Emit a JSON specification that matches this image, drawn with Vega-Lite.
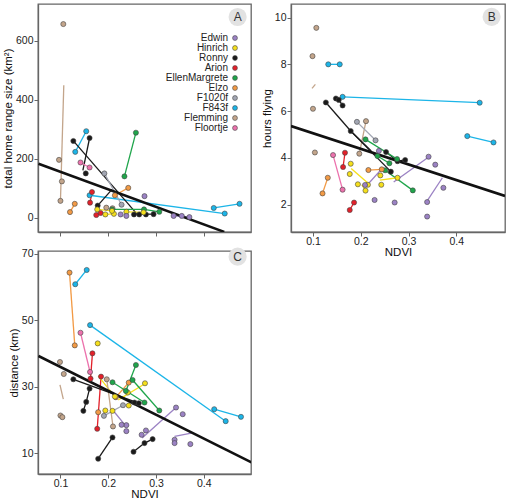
{
  "$schema": "https://vega.github.io/schema/vega-lite/v6.json",
  "padding": {"left": 1, "top": 3, "right": 3, "bottom": 0},
  "background": "white",
  "config": {
    "font": "Liberation Sans",
    "view": {"stroke": "#666", "strokeWidth": 1.3},
    "axis": {"grid": false, "domainColor": "#666", "domainWidth": 1.3, "tickColor": "#666", "tickSize": 4, "labelPadding": 1, "titlePadding": 2, "labelFont": "Liberation Sans", "labelFontSize": 10.5, "labelColor": "#222", "titleFont": "Liberation Sans", "titleFontSize": 11.5, "titleFontWeight": "normal", "titleColor": "#111"},
    "axisX": {"labelPadding": 0, "titlePadding": 0}
  },
  "datasets": {
    "pts": [
      {"p":"A","id":"Flemming","ndvi":0.106,"v":656},{"p":"A","id":"Flemming","ndvi":0.097,"v":196},{"p":"A","id":"Flemming","ndvi":0.103,"v":123},{"p":"A","id":"Flemming","ndvi":0.1,"v":57},{"p":"A","id":"Flemming","ndvi":0.196,"v":34},{"p":"A","id":"Flemming","ndvi":0.209,"v":32},
      {"p":"A","id":"F843f","ndvi":0.131,"v":223},{"p":"A","id":"F843f","ndvi":0.154,"v":293},{"p":"A","id":"F843f","ndvi":0.161,"v":76},{"p":"A","id":"F843f","ndvi":0.444,"v":14},{"p":"A","id":"F843f","ndvi":0.421,"v":33},{"p":"A","id":"F843f","ndvi":0.475,"v":47},
      {"p":"A","id":"Ronny","ndvi":0.127,"v":260},{"p":"A","id":"Ronny","ndvi":0.161,"v":270},{"p":"A","id":"Ronny","ndvi":0.153,"v":150},{"p":"A","id":"Ronny","ndvi":0.178,"v":41},{"p":"A","id":"Ronny","ndvi":0.254,"v":11},{"p":"A","id":"Ronny","ndvi":0.265,"v":11},{"p":"A","id":"Ronny","ndvi":0.279,"v":11},{"p":"A","id":"Ronny","ndvi":0.295,"v":12},
      {"p":"A","id":"EllenMargrete","ndvi":0.234,"v":140},{"p":"A","id":"EllenMargrete","ndvi":0.258,"v":288},{"p":"A","id":"EllenMargrete","ndvi":0.275,"v":28},{"p":"A","id":"EllenMargrete","ndvi":0.307,"v":20},{"p":"A","id":"EllenMargrete","ndvi":0.208,"v":28},
      {"p":"A","id":"F1020f","ndvi":0.192,"v":150},{"p":"A","id":"F1020f","ndvi":0.228,"v":44},
      {"p":"A","id":"Elzo","ndvi":0.12,"v":19},{"p":"A","id":"Elzo","ndvi":0.13,"v":47},{"p":"A","id":"Elzo","ndvi":0.214,"v":76},{"p":"A","id":"Elzo","ndvi":0.242,"v":101},
      {"p":"A","id":"Floortje","ndvi":0.142,"v":187},{"p":"A","id":"Floortje","ndvi":0.161,"v":170},
      {"p":"A","id":"Arion","ndvi":0.166,"v":87},{"p":"A","id":"Arion","ndvi":0.162,"v":51},{"p":"A","id":"Arion","ndvi":0.175,"v":9},{"p":"A","id":"Arion","ndvi":0.184,"v":16},
      {"p":"A","id":"Hinrich","ndvi":0.177,"v":28},{"p":"A","id":"Hinrich","ndvi":0.194,"v":11},{"p":"A","id":"Hinrich","ndvi":0.212,"v":13},{"p":"A","id":"Hinrich","ndvi":0.208,"v":23},{"p":"A","id":"Hinrich","ndvi":0.238,"v":20},{"p":"A","id":"Hinrich","ndvi":0.274,"v":18},
      {"p":"A","id":"Edwin","ndvi":0.276,"v":73},{"p":"A","id":"Edwin","ndvi":0.337,"v":6},{"p":"A","id":"Edwin","ndvi":0.354,"v":6},{"p":"A","id":"Edwin","ndvi":0.37,"v":2},{"p":"A","id":"Edwin","ndvi":0.226,"v":11},{"p":"A","id":"Edwin","ndvi":0.238,"v":6},

      {"p":"B","id":"Flemming","ndvi":0.107,"v":9.56},{"p":"B","id":"Flemming","ndvi":0.099,"v":8.35},{"p":"B","id":"Flemming","ndvi":0.1,"v":6.1},{"p":"B","id":"Flemming","ndvi":0.104,"v":4.23},{"p":"B","id":"Flemming","ndvi":0.211,"v":5.57},{"p":"B","id":"Flemming","ndvi":0.197,"v":4.18},
      {"p":"B","id":"F1020f","ndvi":0.192,"v":5.54},{"p":"B","id":"F1020f","ndvi":0.231,"v":4.75},
      {"p":"B","id":"F843f","ndvi":0.132,"v":8.0},{"p":"B","id":"F843f","ndvi":0.156,"v":8.0},{"p":"B","id":"F843f","ndvi":0.162,"v":6.61},{"p":"B","id":"F843f","ndvi":0.449,"v":6.36},{"p":"B","id":"F843f","ndvi":0.423,"v":4.93},{"p":"B","id":"F843f","ndvi":0.478,"v":4.66},
      {"p":"B","id":"Ronny","ndvi":0.127,"v":6.37},{"p":"B","id":"Ronny","ndvi":0.179,"v":5.15},{"p":"B","id":"Ronny","ndvi":0.148,"v":6.54},{"p":"B","id":"Ronny","ndvi":0.154,"v":6.48},{"p":"B","id":"Ronny","ndvi":0.162,"v":6.24},{"p":"B","id":"Ronny","ndvi":0.253,"v":4.25},{"p":"B","id":"Ronny","ndvi":0.277,"v":3.86},{"p":"B","id":"Ronny","ndvi":0.293,"v":3.91},{"p":"B","id":"Ronny","ndvi":0.263,"v":3.41},
      {"p":"B","id":"EllenMargrete","ndvi":0.21,"v":4.79},{"p":"B","id":"EllenMargrete","ndvi":0.235,"v":4.08},{"p":"B","id":"EllenMargrete","ndvi":0.26,"v":3.77},{"p":"B","id":"EllenMargrete","ndvi":0.251,"v":3.47},{"p":"B","id":"EllenMargrete","ndvi":0.309,"v":2.61},{"p":"B","id":"EllenMargrete","ndvi":0.276,"v":3.95},
      {"p":"B","id":"Arion","ndvi":0.167,"v":4.22},{"p":"B","id":"Arion","ndvi":0.163,"v":3.61},{"p":"B","id":"Arion","ndvi":0.186,"v":2.09},{"p":"B","id":"Arion","ndvi":0.177,"v":1.77},
      {"p":"B","id":"Floortje","ndvi":0.142,"v":4.12},{"p":"B","id":"Floortje","ndvi":0.162,"v":2.64},
      {"p":"B","id":"Elzo","ndvi":0.131,"v":3.15},{"p":"B","id":"Elzo","ndvi":0.12,"v":2.48},{"p":"B","id":"Elzo","ndvi":0.216,"v":3.48},{"p":"B","id":"Elzo","ndvi":0.244,"v":3.51},
      {"p":"B","id":"Hinrich","ndvi":0.179,"v":3.75},{"p":"B","id":"Hinrich","ndvi":0.177,"v":3.31},{"p":"B","id":"Hinrich","ndvi":0.194,"v":2.87},{"p":"B","id":"Hinrich","ndvi":0.215,"v":2.85},{"p":"B","id":"Hinrich","ndvi":0.21,"v":2.6},{"p":"B","id":"Hinrich","ndvi":0.243,"v":2.85},{"p":"B","id":"Hinrich","ndvi":0.241,"v":3.25},{"p":"B","id":"Hinrich","ndvi":0.277,"v":3.15},
      {"p":"B","id":"Edwin","ndvi":0.238,"v":4.3},{"p":"B","id":"Edwin","ndvi":0.209,"v":2.84},{"p":"B","id":"Edwin","ndvi":0.229,"v":2.2},{"p":"B","id":"Edwin","ndvi":0.271,"v":2.09},{"p":"B","id":"Edwin","ndvi":0.342,"v":4.05},{"p":"B","id":"Edwin","ndvi":0.356,"v":3.71},{"p":"B","id":"Edwin","ndvi":0.339,"v":2.11},{"p":"B","id":"Edwin","ndvi":0.373,"v":2.72},{"p":"B","id":"Edwin","ndvi":0.339,"v":1.49},

      {"p":"C","id":"Elzo","ndvi":0.119,"v":64.3},{"p":"C","id":"Elzo","ndvi":0.13,"v":42.4},{"p":"C","id":"Elzo","ndvi":0.216,"v":26.8},{"p":"C","id":"Elzo","ndvi":0.243,"v":31.2},{"p":"C","id":"Elzo","ndvi":0.179,"v":22.3},
      {"p":"C","id":"F843f","ndvi":0.131,"v":60.8},{"p":"C","id":"F843f","ndvi":0.155,"v":65.1},{"p":"C","id":"F843f","ndvi":0.162,"v":48.5},{"p":"C","id":"F843f","ndvi":0.446,"v":19.6},{"p":"C","id":"F843f","ndvi":0.422,"v":23.2},{"p":"C","id":"F843f","ndvi":0.478,"v":20.9},
      {"p":"C","id":"Floortje","ndvi":0.142,"v":46.2},{"p":"C","id":"Floortje","ndvi":0.162,"v":34.4},
      {"p":"C","id":"Arion","ndvi":0.167,"v":40},{"p":"C","id":"Arion","ndvi":0.163,"v":32.4},{"p":"C","id":"Arion","ndvi":0.185,"v":33},{"p":"C","id":"Arion","ndvi":0.177,"v":17.3},
      {"p":"C","id":"Hinrich","ndvi":0.178,"v":43},{"p":"C","id":"Hinrich","ndvi":0.194,"v":22.8},{"p":"C","id":"Hinrich","ndvi":0.209,"v":22.7},{"p":"C","id":"Hinrich","ndvi":0.214,"v":27},{"p":"C","id":"Hinrich","ndvi":0.241,"v":28.2},{"p":"C","id":"Hinrich","ndvi":0.243,"v":24.3},{"p":"C","id":"Hinrich","ndvi":0.277,"v":31},
      {"p":"C","id":"EllenMargrete","ndvi":0.258,"v":36.5},{"p":"C","id":"EllenMargrete","ndvi":0.237,"v":28.7},{"p":"C","id":"EllenMargrete","ndvi":0.251,"v":32},{"p":"C","id":"EllenMargrete","ndvi":0.307,"v":22.8},{"p":"C","id":"EllenMargrete","ndvi":0.209,"v":31.3},{"p":"C","id":"EllenMargrete","ndvi":0.276,"v":25.2},
      {"p":"C","id":"Flemming","ndvi":0.099,"v":37.4},{"p":"C","id":"Flemming","ndvi":0.107,"v":33.8},{"p":"C","id":"Flemming","ndvi":0.1,"v":21.3},{"p":"C","id":"Flemming","ndvi":0.104,"v":20.8},{"p":"C","id":"Flemming","ndvi":0.197,"v":32.2},{"p":"C","id":"Flemming","ndvi":0.21,"v":18},
      {"p":"C","id":"F1020f","ndvi":0.191,"v":21.2},{"p":"C","id":"F1020f","ndvi":0.231,"v":24.4},
      {"p":"C","id":"Ronny","ndvi":0.127,"v":32.2},{"p":"C","id":"Ronny","ndvi":0.255,"v":25.2},{"p":"C","id":"Ronny","ndvi":0.264,"v":25},{"p":"C","id":"Ronny","ndvi":0.148,"v":22.7},{"p":"C","id":"Ronny","ndvi":0.154,"v":25.4},{"p":"C","id":"Ronny","ndvi":0.161,"v":29.4},{"p":"C","id":"Ronny","ndvi":0.179,"v":8.3},{"p":"C","id":"Ronny","ndvi":0.209,"v":14.7},{"p":"C","id":"Ronny","ndvi":0.253,"v":10.4},{"p":"C","id":"Ronny","ndvi":0.276,"v":13},{"p":"C","id":"Ronny","ndvi":0.293,"v":14.2},
      {"p":"C","id":"Edwin","ndvi":0.342,"v":23.7},{"p":"C","id":"Edwin","ndvi":0.356,"v":21.7},{"p":"C","id":"Edwin","ndvi":0.339,"v":14},{"p":"C","id":"Edwin","ndvi":0.339,"v":13},{"p":"C","id":"Edwin","ndvi":0.372,"v":12.7},{"p":"C","id":"Edwin","ndvi":0.238,"v":18.4},{"p":"C","id":"Edwin","ndvi":0.228,"v":18.5},{"p":"C","id":"Edwin","ndvi":0.238,"v":16.6},{"p":"C","id":"Edwin","ndvi":0.27,"v":15.5},{"p":"C","id":"Edwin","ndvi":0.279,"v":16.8}
    ],
    "segs": [
      {"p":"A","id":"Flemming","s":"a1","ndvi":0.1,"v":56},{"p":"A","id":"Flemming","s":"a1","ndvi":0.107,"v":449},
      {"p":"A","id":"F843f","s":"a2","ndvi":0.131,"v":223},{"p":"A","id":"F843f","s":"a2","ndvi":0.154,"v":293},
      {"p":"A","id":"F843f","s":"a3","ndvi":0.161,"v":76},{"p":"A","id":"F843f","s":"a3","ndvi":0.444,"v":14},
      {"p":"A","id":"F843f","s":"a4","ndvi":0.421,"v":33},{"p":"A","id":"F843f","s":"a4","ndvi":0.475,"v":47},
      {"p":"A","id":"Ronny","s":"a5","ndvi":0.127,"v":260},{"p":"A","id":"Ronny","s":"a5","ndvi":0.261,"v":11},
      {"p":"A","id":"Ronny","s":"a6","ndvi":0.161,"v":270},{"p":"A","id":"Ronny","s":"a6","ndvi":0.147,"v":160},
      {"p":"A","id":"Ronny","s":"a7","ndvi":0.177,"v":39},{"p":"A","id":"Ronny","s":"a7","ndvi":0.208,"v":96},
      {"p":"A","id":"Ronny","s":"a8","ndvi":0.254,"v":11},{"p":"A","id":"Ronny","s":"a8","ndvi":0.295,"v":12},
      {"p":"A","id":"EllenMargrete","s":"a9","ndvi":0.234,"v":140},{"p":"A","id":"EllenMargrete","s":"a9","ndvi":0.258,"v":288},
      {"p":"A","id":"EllenMargrete","s":"a10","ndvi":0.208,"v":28},{"p":"A","id":"EllenMargrete","s":"a10","ndvi":0.275,"v":28},
      {"p":"A","id":"EllenMargrete","s":"a11","ndvi":0.275,"v":28},{"p":"A","id":"EllenMargrete","s":"a11","ndvi":0.307,"v":20},
      {"p":"A","id":"F1020f","s":"a12","ndvi":0.192,"v":150},{"p":"A","id":"F1020f","s":"a12","ndvi":0.228,"v":44},
      {"p":"A","id":"Elzo","s":"a13","ndvi":0.12,"v":19},{"p":"A","id":"Elzo","s":"a13","ndvi":0.13,"v":47},
      {"p":"A","id":"Elzo","s":"a14","ndvi":0.214,"v":76},{"p":"A","id":"Elzo","s":"a14","ndvi":0.242,"v":101},
      {"p":"A","id":"Floortje","s":"a15","ndvi":0.142,"v":187},{"p":"A","id":"Floortje","s":"a15","ndvi":0.161,"v":170},
      {"p":"A","id":"Arion","s":"a16","ndvi":0.166,"v":87},{"p":"A","id":"Arion","s":"a16","ndvi":0.162,"v":51},
      {"p":"A","id":"Arion","s":"a17","ndvi":0.175,"v":9},{"p":"A","id":"Arion","s":"a17","ndvi":0.184,"v":16},
      {"p":"A","id":"Hinrich","s":"a18","ndvi":0.177,"v":28},{"p":"A","id":"Hinrich","s":"a18","ndvi":0.208,"v":23},
      {"p":"A","id":"Hinrich","s":"a19","ndvi":0.194,"v":11},{"p":"A","id":"Hinrich","s":"a19","ndvi":0.212,"v":13},
      {"p":"A","id":"Hinrich","s":"a20","ndvi":0.238,"v":20},{"p":"A","id":"Hinrich","s":"a20","ndvi":0.274,"v":18},
      {"p":"A","id":"Edwin","s":"a21","ndvi":0.337,"v":6},{"p":"A","id":"Edwin","s":"a21","ndvi":0.37,"v":3},

      {"p":"B","id":"Flemming","s":"b1","ndvi":0.098,"v":6.97},{"p":"B","id":"Flemming","s":"b1","ndvi":0.105,"v":7.14},
      {"p":"B","id":"Flemming","s":"b2","ndvi":0.211,"v":5.57},{"p":"B","id":"Flemming","s":"b2","ndvi":0.197,"v":4.18},
      {"p":"B","id":"F1020f","s":"b3","ndvi":0.192,"v":5.54},{"p":"B","id":"F1020f","s":"b3","ndvi":0.231,"v":4.75},
      {"p":"B","id":"F843f","s":"b4","ndvi":0.132,"v":8.0},{"p":"B","id":"F843f","s":"b4","ndvi":0.156,"v":8.0},
      {"p":"B","id":"F843f","s":"b5","ndvi":0.162,"v":6.61},{"p":"B","id":"F843f","s":"b5","ndvi":0.449,"v":6.36},
      {"p":"B","id":"F843f","s":"b6","ndvi":0.423,"v":4.93},{"p":"B","id":"F843f","s":"b6","ndvi":0.478,"v":4.66},
      {"p":"B","id":"Ronny","s":"b7","ndvi":0.127,"v":6.37},{"p":"B","id":"Ronny","s":"b7","ndvi":0.179,"v":5.15},
      {"p":"B","id":"Ronny","s":"b8","ndvi":0.179,"v":5.15},{"p":"B","id":"Ronny","s":"b8","ndvi":0.222,"v":4.3},
      {"p":"B","id":"Ronny","s":"b9","ndvi":0.179,"v":5.15},{"p":"B","id":"Ronny","s":"b9","ndvi":0.263,"v":3.41},
      {"p":"B","id":"Ronny","s":"b10","ndvi":0.148,"v":6.54},{"p":"B","id":"Ronny","s":"b10","ndvi":0.154,"v":6.48},{"p":"B","id":"Ronny","s":"b10","ndvi":0.162,"v":6.24},
      {"p":"B","id":"Ronny","s":"b11","ndvi":0.253,"v":4.25},{"p":"B","id":"Ronny","s":"b11","ndvi":0.277,"v":3.86},{"p":"B","id":"Ronny","s":"b11","ndvi":0.293,"v":3.91},
      {"p":"B","id":"EllenMargrete","s":"b12","ndvi":0.21,"v":4.79},{"p":"B","id":"EllenMargrete","s":"b12","ndvi":0.276,"v":3.95},
      {"p":"B","id":"EllenMargrete","s":"b13","ndvi":0.235,"v":4.08},{"p":"B","id":"EllenMargrete","s":"b13","ndvi":0.26,"v":3.77},
      {"p":"B","id":"EllenMargrete","s":"b14","ndvi":0.251,"v":3.47},{"p":"B","id":"EllenMargrete","s":"b14","ndvi":0.309,"v":2.61},
      {"p":"B","id":"Arion","s":"b15","ndvi":0.167,"v":4.22},{"p":"B","id":"Arion","s":"b15","ndvi":0.163,"v":3.61},
      {"p":"B","id":"Arion","s":"b16","ndvi":0.186,"v":2.09},{"p":"B","id":"Arion","s":"b16","ndvi":0.177,"v":1.77},
      {"p":"B","id":"Floortje","s":"b17","ndvi":0.142,"v":4.12},{"p":"B","id":"Floortje","s":"b17","ndvi":0.162,"v":2.64},
      {"p":"B","id":"Elzo","s":"b18","ndvi":0.131,"v":3.15},{"p":"B","id":"Elzo","s":"b18","ndvi":0.12,"v":2.48},
      {"p":"B","id":"Elzo","s":"b19","ndvi":0.216,"v":3.48},{"p":"B","id":"Elzo","s":"b19","ndvi":0.244,"v":3.51},
      {"p":"B","id":"Hinrich","s":"b20","ndvi":0.18,"v":3.55},{"p":"B","id":"Hinrich","s":"b20","ndvi":0.216,"v":2.9},
      {"p":"B","id":"Hinrich","s":"b21","ndvi":0.202,"v":2.85},{"p":"B","id":"Hinrich","s":"b21","ndvi":0.21,"v":2.6},
      {"p":"B","id":"Hinrich","s":"b22","ndvi":0.24,"v":3.05},{"p":"B","id":"Hinrich","s":"b22","ndvi":0.277,"v":3.15},
      {"p":"B","id":"Edwin","s":"b23","ndvi":0.269,"v":2.97},{"p":"B","id":"Edwin","s":"b23","ndvi":0.343,"v":4.05},
      {"p":"B","id":"Edwin","s":"b24","ndvi":0.338,"v":2.13},{"p":"B","id":"Edwin","s":"b24","ndvi":0.371,"v":3.15},
      {"p":"B","id":"Edwin","s":"b25","ndvi":0.215,"v":2.87},{"p":"B","id":"Edwin","s":"b25","ndvi":0.243,"v":3.51},

      {"p":"C","id":"Elzo","s":"c1","ndvi":0.119,"v":64.3},{"p":"C","id":"Elzo","s":"c1","ndvi":0.13,"v":42.4},
      {"p":"C","id":"Elzo","s":"c2","ndvi":0.216,"v":26.8},{"p":"C","id":"Elzo","s":"c2","ndvi":0.243,"v":31.2},
      {"p":"C","id":"F843f","s":"c3","ndvi":0.131,"v":60.8},{"p":"C","id":"F843f","s":"c3","ndvi":0.155,"v":65.1},
      {"p":"C","id":"F843f","s":"c4","ndvi":0.162,"v":48.5},{"p":"C","id":"F843f","s":"c4","ndvi":0.446,"v":19.6},
      {"p":"C","id":"F843f","s":"c5","ndvi":0.422,"v":23.2},{"p":"C","id":"F843f","s":"c5","ndvi":0.478,"v":20.9},
      {"p":"C","id":"Floortje","s":"c6","ndvi":0.142,"v":46.2},{"p":"C","id":"Floortje","s":"c6","ndvi":0.162,"v":34.4},
      {"p":"C","id":"Arion","s":"c7","ndvi":0.167,"v":40},{"p":"C","id":"Arion","s":"c7","ndvi":0.163,"v":32.4},
      {"p":"C","id":"Arion","s":"c8","ndvi":0.185,"v":33},{"p":"C","id":"Arion","s":"c8","ndvi":0.177,"v":17.3},
      {"p":"C","id":"Hinrich","s":"c9","ndvi":0.179,"v":33.2},{"p":"C","id":"Hinrich","s":"c9","ndvi":0.214,"v":27},
      {"p":"C","id":"Hinrich","s":"c10","ndvi":0.221,"v":26},{"p":"C","id":"Hinrich","s":"c10","ndvi":0.276,"v":30.8},
      {"p":"C","id":"EllenMargrete","s":"c11","ndvi":0.258,"v":36.5},{"p":"C","id":"EllenMargrete","s":"c11","ndvi":0.237,"v":28.7},
      {"p":"C","id":"EllenMargrete","s":"c12","ndvi":0.251,"v":32},{"p":"C","id":"EllenMargrete","s":"c12","ndvi":0.307,"v":22.8},
      {"p":"C","id":"EllenMargrete","s":"c13","ndvi":0.209,"v":31.3},{"p":"C","id":"EllenMargrete","s":"c13","ndvi":0.276,"v":25.2},
      {"p":"C","id":"Flemming","s":"c14","ndvi":0.099,"v":30.5},{"p":"C","id":"Flemming","s":"c14","ndvi":0.106,"v":26.2},
      {"p":"C","id":"Flemming","s":"c15","ndvi":0.197,"v":32.2},{"p":"C","id":"Flemming","s":"c15","ndvi":0.21,"v":18},
      {"p":"C","id":"F1020f","s":"c16","ndvi":0.191,"v":21.2},{"p":"C","id":"F1020f","s":"c16","ndvi":0.231,"v":24.4},
      {"p":"C","id":"Ronny","s":"c17","ndvi":0.127,"v":32.2},{"p":"C","id":"Ronny","s":"c17","ndvi":0.264,"v":25},
      {"p":"C","id":"Ronny","s":"c18","ndvi":0.148,"v":22.7},{"p":"C","id":"Ronny","s":"c18","ndvi":0.154,"v":25.4},{"p":"C","id":"Ronny","s":"c18","ndvi":0.161,"v":29.4},
      {"p":"C","id":"Ronny","s":"c19","ndvi":0.179,"v":8.3},{"p":"C","id":"Ronny","s":"c19","ndvi":0.209,"v":14.7},
      {"p":"C","id":"Ronny","s":"c20","ndvi":0.253,"v":10.4},{"p":"C","id":"Ronny","s":"c20","ndvi":0.276,"v":13},{"p":"C","id":"Ronny","s":"c20","ndvi":0.293,"v":14.2},
      {"p":"C","id":"Edwin","s":"c21","ndvi":0.271,"v":14.5},{"p":"C","id":"Edwin","s":"c21","ndvi":0.342,"v":23.7},
      {"p":"C","id":"Edwin","s":"c22","ndvi":0.339,"v":15},{"p":"C","id":"Edwin","s":"c22","ndvi":0.374,"v":16},
      {"p":"C","id":"Edwin","s":"c23","ndvi":0.212,"v":22.5},{"p":"C","id":"Edwin","s":"c23","ndvi":0.235,"v":18.5}
    ],
    "fit": [
      {"p":"A","ndvi":0.054,"v":183},{"p":"A","ndvi":0.443,"v":-48},
      {"p":"B","ndvi":0.054,"v":5.36},{"p":"B","ndvi":0.502,"v":2.37},
      {"p":"C","ndvi":0.054,"v":39.2},{"p":"C","ndvi":0.5,"v":7.2}
    ],
    "badge": [{"p":"A","ndvi":0.471,"v":680},{"p":"B","ndvi":0.474,"v":10.03},{"p":"C","ndvi":0.471,"v":69.1}]
  },
  "concat": [
    {
      "width": 213, "height": 228,
      "layer": [
        {"data": {"name": "segs"}, "transform": [{"filter": "datum.p == 'A'"}], "mark": {"type": "line", "strokeWidth": 1.3},
         "encoding": {"x": {"field": "ndvi", "type": "quantitative", "scale": {"domain": [0.053, 0.499], "nice": false, "zero": false}, "axis": {"values": [0.1, 0.2, 0.3, 0.4], "labels": false, "title": null}},
           "y": {"field": "v", "type": "quantitative", "scale": {"domain": [-48.5, 724], "nice": false, "zero": false}, "axis": {"values": [0, 200, 400, 600], "title": "total home range size (km²)"}},
           "detail": {"field": "s"}, "order": {"field": "ndvi"},
           "color": {"field": "id", "type": "nominal", "legend": null, "scale": {"domain": ["Edwin","Hinrich","Ronny","Arion","EllenMargrete","Elzo","F1020f","F843f","Flemming","Floortje"], "range": ["#9b82c4","#f5df1c","#1a1a1a","#e3202a","#1fa54b","#f29a45","#a2a6b3","#1cb5e8","#c3a58b","#ec72ad"]}}}},
        {"data": {"name": "fit"}, "transform": [{"filter": "datum.p == 'A'"}], "mark": {"type": "line", "strokeWidth": 2.6, "color": "#111", "clip": true},
         "encoding": {"x": {"field": "ndvi", "type": "quantitative"}, "y": {"field": "v", "type": "quantitative"}}},
        {"data": {"name": "pts"}, "transform": [{"filter": "datum.p == 'A'"}], "mark": {"type": "point", "filled": true, "size": 26, "stroke": "#444", "strokeWidth": 0.6, "opacity": 1},
         "encoding": {"x": {"field": "ndvi", "type": "quantitative"}, "y": {"field": "v", "type": "quantitative"},
           "color": {"field": "id", "type": "nominal", "legend": {"title": null, "orient": "none", "legendX": 192, "legendY": 29, "symbolType": "circle", "symbolSize": 24, "symbolStrokeColor": "#444", "symbolStrokeWidth": 0.6, "symbolOpacity": 1, "labelAlign": "right", "labelOffset": -12, "labelFontSize": 10, "labelFont": "Liberation Sans", "labelColor": "#222", "rowPadding": -2, "padding": 0}}}},
        {"data": {"name": "badge"}, "transform": [{"filter": "datum.p == 'A'"}], "mark": {"type": "circle", "color": "#e2e2e2", "size": 330, "opacity": 1}, "encoding": {"x": {"field": "ndvi", "type": "quantitative"}, "y": {"field": "v", "type": "quantitative"}}},
        {"data": {"name": "badge"}, "transform": [{"filter": "datum.p == 'A'"}], "mark": {"type": "text", "fontSize": 12, "color": "#333"}, "encoding": {"x": {"field": "ndvi", "type": "quantitative"}, "y": {"field": "v", "type": "quantitative"}, "text": {"field": "p"}}}
      ],
      "resolve": {"legend": {"color": "independent"}}
    },
    {
      "width": 214, "height": 228,
      "layer": [
        {"data": {"name": "segs"}, "transform": [{"filter": "datum.p == 'B'"}], "mark": {"type": "line", "strokeWidth": 1.3},
         "encoding": {"x": {"field": "ndvi", "type": "quantitative", "scale": {"domain": [0.054, 0.502], "nice": false, "zero": false}, "axis": {"values": [0.1, 0.2, 0.3, 0.4], "format": ".1f", "title": "NDVI"}},
           "y": {"field": "v", "type": "quantitative", "scale": {"domain": [0.83, 10.58], "nice": false, "zero": false}, "axis": {"values": [2, 4, 6, 8, 10], "title": "hours flying"}},
           "detail": {"field": "s"}, "order": {"field": "ndvi"},
           "color": {"field": "id", "type": "nominal", "legend": null, "scale": {"domain": ["Edwin","Hinrich","Ronny","Arion","EllenMargrete","Elzo","F1020f","F843f","Flemming","Floortje"], "range": ["#9b82c4","#f5df1c","#1a1a1a","#e3202a","#1fa54b","#f29a45","#a2a6b3","#1cb5e8","#c3a58b","#ec72ad"]}}}},
        {"data": {"name": "fit"}, "transform": [{"filter": "datum.p == 'B'"}], "mark": {"type": "line", "strokeWidth": 2.6, "color": "#111", "clip": true},
         "encoding": {"x": {"field": "ndvi", "type": "quantitative"}, "y": {"field": "v", "type": "quantitative"}}},
        {"data": {"name": "pts"}, "transform": [{"filter": "datum.p == 'B'"}], "mark": {"type": "point", "filled": true, "size": 26, "stroke": "#444", "strokeWidth": 0.6, "opacity": 1},
         "encoding": {"x": {"field": "ndvi", "type": "quantitative"}, "y": {"field": "v", "type": "quantitative"}, "color": {"field": "id", "type": "nominal", "legend": null}}},
        {"data": {"name": "badge"}, "transform": [{"filter": "datum.p == 'B'"}], "mark": {"type": "circle", "color": "#e2e2e2", "size": 330, "opacity": 1}, "encoding": {"x": {"field": "ndvi", "type": "quantitative"}, "y": {"field": "v", "type": "quantitative"}}},
        {"data": {"name": "badge"}, "transform": [{"filter": "datum.p == 'B'"}], "mark": {"type": "text", "fontSize": 12, "color": "#333"}, "encoding": {"x": {"field": "ndvi", "type": "quantitative"}, "y": {"field": "v", "type": "quantitative"}, "text": {"field": "p"}}}
      ]
    },
    {
      "width": 213, "height": 223,
      "layer": [
        {"data": {"name": "segs"}, "transform": [{"filter": "datum.p == 'C'"}], "mark": {"type": "line", "strokeWidth": 1.3},
         "encoding": {"x": {"field": "ndvi", "type": "quantitative", "scale": {"domain": [0.053, 0.499], "nice": false, "zero": false}, "axis": {"values": [0.1, 0.2, 0.3, 0.4], "format": ".1f", "title": "NDVI"}},
           "y": {"field": "v", "type": "quantitative", "scale": {"domain": [3.7, 70.8], "nice": false, "zero": false}, "axis": {"values": [10, 20, 30, 40, 50, 60, 70], "title": "distance (km)"}},
           "detail": {"field": "s"}, "order": {"field": "ndvi"},
           "color": {"field": "id", "type": "nominal", "legend": null, "scale": {"domain": ["Edwin","Hinrich","Ronny","Arion","EllenMargrete","Elzo","F1020f","F843f","Flemming","Floortje"], "range": ["#9b82c4","#f5df1c","#1a1a1a","#e3202a","#1fa54b","#f29a45","#a2a6b3","#1cb5e8","#c3a58b","#ec72ad"]}}}},
        {"data": {"name": "fit"}, "transform": [{"filter": "datum.p == 'C'"}], "mark": {"type": "line", "strokeWidth": 2.6, "color": "#111", "clip": true},
         "encoding": {"x": {"field": "ndvi", "type": "quantitative"}, "y": {"field": "v", "type": "quantitative"}}},
        {"data": {"name": "pts"}, "transform": [{"filter": "datum.p == 'C'"}], "mark": {"type": "point", "filled": true, "size": 26, "stroke": "#444", "strokeWidth": 0.6, "opacity": 1},
         "encoding": {"x": {"field": "ndvi", "type": "quantitative"}, "y": {"field": "v", "type": "quantitative"}, "color": {"field": "id", "type": "nominal", "legend": null}}},
        {"data": {"name": "badge"}, "transform": [{"filter": "datum.p == 'C'"}], "mark": {"type": "circle", "color": "#e2e2e2", "size": 330, "opacity": 1}, "encoding": {"x": {"field": "ndvi", "type": "quantitative"}, "y": {"field": "v", "type": "quantitative"}}},
        {"data": {"name": "badge"}, "transform": [{"filter": "datum.p == 'C'"}], "mark": {"type": "text", "fontSize": 12, "color": "#333"}, "encoding": {"x": {"field": "ndvi", "type": "quantitative"}, "y": {"field": "v", "type": "quantitative"}, "text": {"field": "p"}}}
      ]
    }
  ],
  "columns": 2,
  "spacing": {"row": 19, "column": 40},
  "bounds": "flush",
  "resolve": {"scale": {"x": "independent", "y": "independent", "color": "independent"}, "legend": {"color": "independent"}}
}
